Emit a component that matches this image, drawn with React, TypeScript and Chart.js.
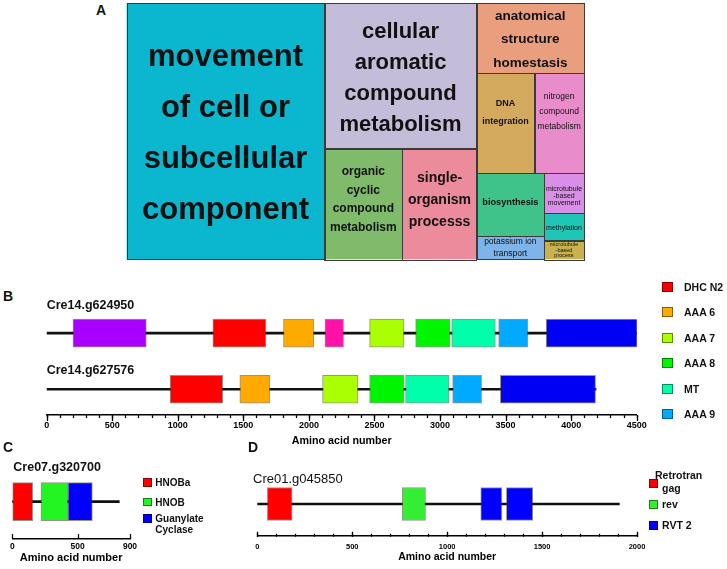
import React, { useEffect, useRef } from 'react';
import { Chart, registerables } from 'chart.js';

Chart.register(...registerables);

const FONT = "'Liberation Sans', Arial, Helvetica, sans-serif";

/* ---------------- Panel A : GO treemap (cell bounds in treemap units 0-100) ---------------- */
const tmTerms = [
  'movement\nof cell or\nsubcellular\ncomponent',
  'cellular\naromatic\ncompound\nmetabolism',
  'organic\ncyclic\ncompound\nmetabolism',
  'single-\norganism\nprocesss',
  'anatomical\nstructure\nhomestasis',
  'DNA\nintegration',
  'nitrogen\ncompound\nmetabolism',
  'biosynthesis',
  'potassium ion\ntransport',
  'microtubule\n-based\nmovement',
  'methylation',
  'microtubule\n-based\nprocess',
];
const tmX0 = [0, 43.21, 43.21, 60.27, 76.54, 76.54, 89.13, 76.54, 76.54, 91.25, 91.25, 91.25];
const tmX1 = [43.21, 76.54, 60.27, 76.54, 100, 89.13, 100, 91.25, 91.25, 100, 100, 100];
const tmY0 = [0, 0, 56.8, 56.8, 0, 27.34, 27.34, 66.41, 90.9, 66.41, 82.03, 92.73];
const tmY1 = [100, 56.8, 100, 100, 27.34, 66.41, 66.41, 90.9, 100, 82.03, 92.73, 100];

// treemap styles
const tmColors = ['#0ab7cf', '#c3bdd9', '#80bb6b', '#ec8b9b', '#e99f7e', '#d3aa5e', '#e98ccb', '#40c28b', '#7eb4e8', '#d98fe6', '#1fc5b5', '#c9b24e'];
const tmFontSize = [31, 22, 12, 14, 13.5, 9, 8.5, 9.2, 8.5, 7, 7, 5.5];
const tmBold = [true, true, true, true, true, true, false, true, false, false, false, false];
const tmLineGap = [51, 31, 18.7, 21.7, 23.5, 17.7, 15, 10, 11.6, 7, 7, 5.7];
const tmShiftY = [2.5, 2, -4.3, -4, 1.2, -11, -11.4, -2, 0, 2.7, 1.3, 0];

/* ---------------- Panel B : dynein heavy chains ---------------- */
const bGenes = ['Cre14.g624950', 'Cre14.g627576'];
const bGeneLengths = [4520, 4190];
const bDomainNames = ['DHC N1', 'DHC N2', 'AAA 6', 'AAA 5', 'AAA 7', 'AAA 8', 'MT', 'AAA 9', 'Dynein C'];
const bDomainSpans: ([number, number] | null)[][] = [
  [[200, 760], null],
  [[1267, 1672], [941, 1343]],
  [[1806, 2038], [1473, 1702]],
  [[2122, 2264], null],
  [[2463, 2725], [2104, 2374]],
  [[2814, 3076], [2463, 2725]],
  [[3089, 3422], [2737, 3069]],
  [[3447, 3669], [3096, 3317]],
  [[3809, 4509], [3460, 4186]],
];
const bDomainColors = ['#a800ff', '#ff0000', '#ffaa00', '#ff11aa', '#aaff00', '#00f500', '#00ffaa', '#00aaff', '#0000f5'];
const bLegendDomains = ['DHC N2', 'AAA 6', 'AAA 7', 'AAA 8', 'MT', 'AAA 9'];
const bTicks = [0, 500, 1000, 1500, 2000, 2500, 3000, 3500, 4000, 4500];

/* ---------------- Panel C : guanylate cyclase ---------------- */
const cGenes = ['Cre07.g320700'];
const cGeneLengths = [818];
const cDomainNames = ['HNOBa', 'HNOB', 'Guanylate Cyclase'];
const cDomainSpans: ([number, number] | null)[][] = [[[2, 156]], [[219, 426]], [[426, 612]]];
const cDomainColors = ['#ff0000', '#22f522', '#0000ff'];
const cLegendLabels = ['HNOBa', 'HNOB', 'Guanylate\nCyclase'];
const cTicks = [0, 500, 900];

/* ---------------- Panel D : retrotransposon ---------------- */
const dGenes = ['Cre01.g045850'];
const dGeneLengths = [1907];
const dDomainNames = ['Retrotran gag', 'rev', 'RVT 2', 'RVT 2 (2)'];
const dDomainSpans: ([number, number] | null)[][] = [[[53, 183]], [[763, 886]], [[1177, 1288]], [[1312, 1451]]];
const dDomainColors = ['#ff0000', '#33ee33', '#0000ff', '#0000ff'];
const dLegendLabels = ['Retrotran\ngag', 'rev', 'RVT 2'];
const dLegendColors = ['#ff0000', '#33ee33', '#0000ff'];
const dTicks = [0, 500, 1000, 1500, 2000];

/* ---------------- plugins ---------------- */
const treemapPlugin = {
  id: 'treemapCells',
  afterDatasetsDraw(chart: any) {
    const { ctx } = chart;
    const xs = chart.scales.x;
    const ys = chart.scales.y;
    const cells = chart.data.datasets[0].data as any[];
    const rects = cells.map((c) => ({
      l: xs.getPixelForValue(c.x0),
      r: xs.getPixelForValue(c.x1),
      t: ys.getPixelForValue(c.y0),
      b: ys.getPixelForValue(c.y1),
    }));
    ctx.save();
    rects.forEach((q, i) => {
      ctx.fillStyle = tmColors[i];
      ctx.fillRect(q.l, q.t, q.r - q.l, q.b - q.t);
    });
    ctx.strokeStyle = '#3b3b3b';
    ctx.lineWidth = 1;
    rects.forEach((q) => {
      ctx.strokeRect(Math.round(q.l) + 0.5, Math.round(q.t) + 0.5, Math.round(q.r - q.l), Math.round(q.b - q.t));
    });
    ctx.fillStyle = '#111';
    ctx.textAlign = 'center';
    ctx.textBaseline = 'middle';
    cells.forEach((c, i) => {
      const q = rects[i];
      const lines = String(c.term).split('\n');
      ctx.font = `${tmBold[i] ? 'bold ' : ''}${tmFontSize[i]}px ${FONT}`;
      const cx = (q.l + q.r) / 2;
      const cy = (q.t + q.b) / 2 + tmShiftY[i];
      const y0 = cy - ((lines.length - 1) * tmLineGap[i]) / 2;
      lines.forEach((ln, k) => ctx.fillText(ln, cx, y0 + k * tmLineGap[i]));
    });
    ctx.restore();
  },
};

const geneNamesPlugin = {
  id: 'geneNames',
  afterDatasetsDraw(chart: any, _a: any, opts: any) {
    const { ctx, chartArea, scales } = chart;
    ctx.save();
    ctx.fillStyle = '#111';
    ctx.font = opts.font;
    ctx.textAlign = 'left';
    ctx.textBaseline = 'middle';
    (opts.names as string[]).forEach((n, i) => {
      ctx.fillText(n, chartArea.left + opts.dx, scales.y.getPixelForValue(i + 1) - opts.offsets[i]);
    });
    ctx.restore();
  },
};

const tickMarksPlugin = {
  id: 'tickMarks',
  afterDraw(chart: any, _a: any, opts: any) {
    const s = chart.scales.x;
    const ctx = chart.ctx;
    const y0 = s.top + 0.75;
    ctx.save();
    ctx.strokeStyle = '#000';
    ctx.lineWidth = 1.3;
    const draw = (v: number, len: number) => {
      const x = Math.round(s.getPixelForValue(v)) + 0.5;
      ctx.beginPath();
      ctx.moveTo(x, y0);
      ctx.lineTo(x, y0 + opts.dir * len);
      ctx.stroke();
    };
    if (opts.minorStep > 0) {
      for (let v = 0; v <= s.max + 1e-6; v += opts.minorStep) draw(v, opts.minorLen);
    }
    (opts.major as number[]).forEach((v) => draw(v, opts.majorLen));
    ctx.restore();
  },
};

/* ---------------- config builders ---------------- */
function treemapConfig(): any {
  const cells = tmTerms.map((term, i) => ({
    x: (tmX0[i] + tmX1[i]) / 2,
    y: (tmY0[i] + tmY1[i]) / 2,
    x0: tmX0[i],
    x1: tmX1[i],
    y0: tmY0[i],
    y1: tmY1[i],
    term,
  }));
  return {
    type: 'scatter',
    data: { datasets: [{ label: 'GO terms', data: cells, pointRadius: 0, pointHoverRadius: 0 }] },
    options: {
      animation: false,
      responsive: false,
      devicePixelRatio: 1,
      events: [],
      layout: { padding: { left: 16.7, top: 3.3, right: 16, bottom: 6.7 } },
      plugins: { legend: { display: false }, tooltip: { enabled: false } },
      scales: {
        x: { type: 'linear', display: false, min: 0, max: 100 },
        y: { type: 'linear', display: false, min: 0, max: 100, reverse: true },
      },
    },
    plugins: [treemapPlugin],
  };
}

function geneConfig(s: any): any {
  const backbone = {
    label: 'protein',
    data: s.genes.map((_: string, i: number) => ({ y: i + 1, x: [0, s.lengths[i]] })),
    backgroundColor: '#111',
    borderWidth: 0,
    barThickness: s.lineW,
    stack: 'row',
    order: 10,
  };
  const domainSets = s.names.map((name: string, k: number) => ({
    label: name,
    data: s.spans[k]
      .map((sp: any, i: number) => (sp ? { y: i + 1, x: sp } : null))
      .filter((d: any) => d !== null),
    backgroundColor: s.colors[k],
    borderColor: 'rgba(70,60,40,0.55)',
    borderWidth: 1,
    borderSkipped: false,
    barThickness: s.boxH,
    stack: 'row',
    order: 1,
  }));
  const axisH = 2 * s.tickPad + s.tickFont + s.titleFont + s.titlePadTop;
  const c = s.canvas;
  const a = s.area;
  return {
    type: 'bar',
    data: { datasets: [backbone, ...domainSets] },
    options: {
      indexAxis: 'y',
      animation: false,
      responsive: false,
      devicePixelRatio: 1,
      events: [],
      layout: {
        padding: {
          left: a.left - c.left,
          right: c.left + c.width - a.right,
          top: a.top - c.top,
          bottom: c.top + c.height - a.axisY - axisH,
        },
      },
      plugins: {
        legend: { display: false },
        tooltip: { enabled: false },
        geneNames: { names: s.genes, font: s.nameFont, offsets: s.nameOffsets, dx: s.nameDx },
        tickMarks: { major: s.ticks, minorStep: s.minorStep, majorLen: s.majorLen, minorLen: s.minorLen, dir: s.tickDir },
      },
      scales: {
        x: {
          type: 'linear',
          position: 'bottom',
          min: 0,
          max: s.xMax,
          stacked: false,
          offset: false,
          afterBuildTicks: (sc: any) => {
            sc.ticks = s.ticks.map((v: number) => ({ value: v }));
          },
          ticks: {
            autoSkip: false,
            maxRotation: 0,
            padding: s.tickPad,
            color: '#000',
            callback: (v: any) => String(v),
            font: { family: FONT, size: s.tickFont, weight: 'bold', lineHeight: 1 },
          },
          grid: { display: false, drawTicks: false, offset: false },
          border: { display: true, color: '#000', width: 1.5 },
          title: {
            display: true,
            text: 'Amino acid number',
            color: '#000',
            font: { family: FONT, size: s.titleFont, weight: 'bold', lineHeight: 1 },
            padding: { top: s.titlePadTop, bottom: 0 },
          },
        },
        y: {
          type: 'linear',
          display: false,
          reverse: true,
          offset: false,
          grid: { offset: false },
          min: s.yMin,
          max: s.yMax,
        },
      },
    },
    plugins: [geneNamesPlugin, tickMarksPlugin],
  };
}

const specB = {
  genes: bGenes, lengths: bGeneLengths, names: bDomainNames, spans: bDomainSpans, colors: bDomainColors,
  xMax: 4500, ticks: bTicks, minorStep: 100,
  canvas: { left: 17, top: 275, width: 660, height: 176 },
  area: { left: 46.7, right: 636.7, top: 305, axisY: 414.3 },
  yMin: 0.5, yMax: 2.4464, boxH: 28, lineW: 2,
  tickFont: 9, tickPad: 6.7, titleFont: 10.7, titlePadTop: -1.2,
  nameFont: `bold 12.5px ${FONT}`, nameOffsets: [28, 18.3], nameDx: 0,
  tickDir: 1, majorLen: 6, minorLen: 3,
};
const specC = {
  genes: cGenes, lengths: cGeneLengths, names: cDomainNames, spans: cDomainSpans, colors: cDomainColors,
  xMax: 900, ticks: cTicks, minorStep: 0,
  canvas: { left: 0, top: 440, width: 145, height: 129 },
  area: { left: 12.3, right: 130, top: 465.1, axisY: 538.3 },
  yMin: 0.5, yMax: 1.5, boxH: 38, lineW: 2,
  tickFont: 8.5, tickPad: 4, titleFont: 11, titlePadTop: -2.25,
  nameFont: `bold 12.5px ${FONT}`, nameOffsets: [34], nameDx: 1,
  tickDir: -1, majorLen: 5, minorLen: 0,
};
const specD = {
  genes: dGenes, lengths: dGeneLengths, names: dDomainNames, spans: dDomainSpans, colors: dDomainColors,
  xMax: 2000, ticks: dTicks, minorStep: 100,
  canvas: { left: 230, top: 440, width: 430, height: 129 },
  area: { left: 257.3, right: 637, top: 472, axisY: 536 },
  yMin: 0.5, yMax: 1.5, boxH: 33, lineW: 1.8,
  tickFont: 7.5, tickPad: 7, titleFont: 10.5, titlePadTop: -6,
  nameFont: `13px ${FONT}`, nameOffsets: [24.7], nameDx: -4.3,
  tickDir: -1, majorLen: 5, minorLen: 3,
};

/* ---------------- small HTML pieces ---------------- */
function Swatch({ left, cy, w, h, color }: any) {
  return (
    <div
      style={{
        position: 'absolute', left, top: cy - h / 2, width: w, height: h, background: color,
        border: '1px solid rgba(0,0,0,0.45)', boxSizing: 'border-box',
      }}
    />
  );
}

function TextLines({ left, cy, size, lh, text, indent = 0, bold = true }: any) {
  const lines = String(text).split('\n');
  return (
    <>
      {lines.map((ln, k) => (
        <div
          key={k}
          style={{
            position: 'absolute', left: left + (k > 0 ? indent : 0), top: cy - lh / 2 + k * lh,
            font: `${bold ? 'bold ' : ''}${size}px ${FONT}`, lineHeight: `${lh}px`, whiteSpace: 'pre', color: '#111',
          }}
        >
          {ln}
        </div>
      ))}
    </>
  );
}

function Canvas({ cref, box }: any) {
  return (
    <canvas
      ref={cref}
      width={box.width}
      height={box.height}
      style={{ position: 'absolute', left: box.left, top: box.top, width: box.width, height: box.height, display: 'block' }}
    />
  );
}

const boxA = { left: 110, top: 0, width: 490, height: 266 };

export default function App() {
  const aRef = useRef<HTMLCanvasElement>(null);
  const bRef = useRef<HTMLCanvasElement>(null);
  const cRef = useRef<HTMLCanvasElement>(null);
  const dRef = useRef<HTMLCanvasElement>(null);

  useEffect(() => {
    const charts = [
      new Chart(aRef.current as HTMLCanvasElement, treemapConfig()),
      new Chart(bRef.current as HTMLCanvasElement, geneConfig(specB)),
      new Chart(cRef.current as HTMLCanvasElement, geneConfig(specC)),
      new Chart(dRef.current as HTMLCanvasElement, geneConfig(specD)),
    ];
    return () => charts.forEach((ch) => ch.destroy());
  }, []);

  return (
    <div style={{ position: 'absolute', left: 0, top: 0, width: 727, height: 569, background: '#fff', overflow: 'hidden' }}>
      <Canvas cref={aRef} box={boxA} />
      <Canvas cref={bRef} box={specB.canvas} />
      <Canvas cref={cRef} box={specC.canvas} />
      <Canvas cref={dRef} box={specD.canvas} />

      {/* panel letters */}
      <TextLines left={96} cy={10} size={14} lh={16} text="A" />
      <TextLines left={3} cy={296} size={14} lh={16} text="B" />
      <TextLines left={3} cy={446.7} size={14} lh={16} text="C" />
      <TextLines left={248} cy={446.7} size={14} lh={16} text="D" />

      {/* legend B */}
      {bLegendDomains.map((name, i) => {
        const color = bDomainColors[bDomainNames.indexOf(name)];
        const cy = 287 + i * 25.4;
        return (
          <React.Fragment key={name}>
            <Swatch left={662} cy={cy} w={11} h={10} color={color} />
            <TextLines left={684} cy={cy} size={10.5} lh={12} text={name} />
          </React.Fragment>
        );
      })}

      {/* legend C */}
      {cLegendLabels.map((label, i) => {
        const cy = [482.3, 502, 518.5][i];
        return (
          <React.Fragment key={label}>
            <Swatch left={143.3} cy={cy} w={8.5} h={8.5} color={cDomainColors[i]} />
            <TextLines left={155.3} cy={cy} size={10} lh={11} text={label} />
          </React.Fragment>
        );
      })}

      {/* legend D */}
      {dLegendLabels.map((label, i) => {
        const sq = [483.3, 504.7, 525.3][i];
        const first = i === 0;
        return (
          <React.Fragment key={label}>
            <Swatch left={649} cy={sq} w={8.5} h={8.5} color={dLegendColors[i]} />
            <TextLines
              left={first ? 655 : 662}
              cy={first ? 475 : sq}
              size={10.5}
              lh={13}
              text={label}
              indent={first ? 7 : 0}
            />
          </React.Fragment>
        );
      })}
    </div>
  );
}
